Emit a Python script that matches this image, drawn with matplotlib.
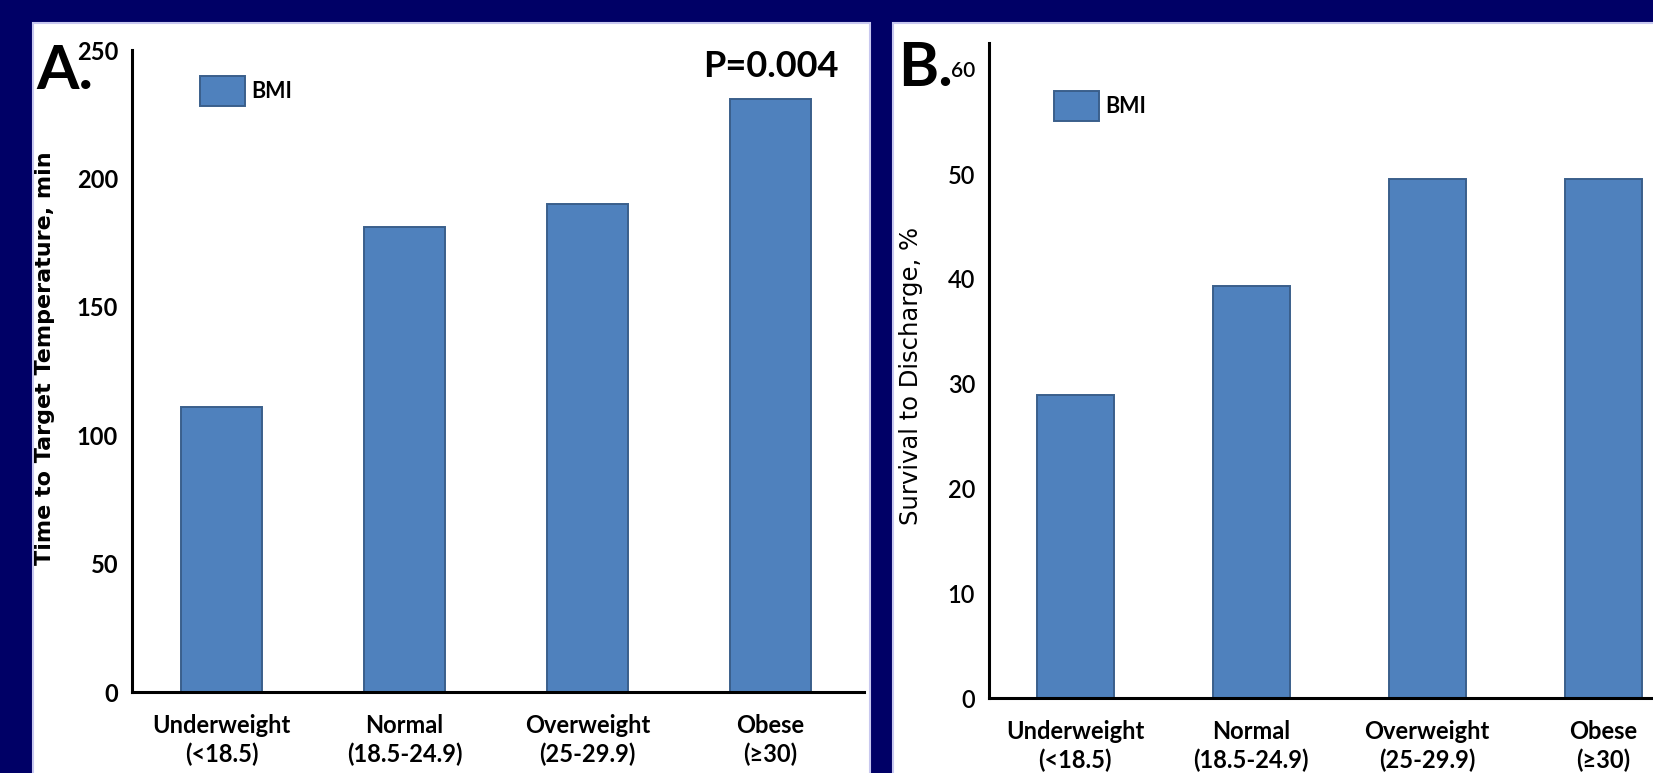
import matplotlib.pyplot as plt
from matplotlib.patches import Rectangle, Patch

# data
categories = ['Underweight\n(<18.5)', 'Normal\n(18.5-24.9)',
              'Overweight\n(25-29.9)', 'Obese\n(\u226530)']
time_to_target = [111, 181, 190, 231]
survival = [28.9, 39.3, 49.5, 49.5]
ticks_a = [0, 50, 100, 150, 200, 250]
ticks_b = [0, 10, 20, 30, 40, 50, 60]

W, H = 1653, 773
navy = '#000066'
bar_color = '#4F81BD'
bar_edge = '#3A5F8B'
fonts = ['Lato', 'DejaVu Sans']


def box(x0, y0, x1, y1):
    # pixel box (top-left origin) -> figure fraction
    return [x0 / W, 1 - y1 / H, (x1 - x0) / W, (y1 - y0) / H]


fig = plt.figure(figsize=(W / 100, H / 100), dpi=100, facecolor=navy)

# white panels
for x0, x1 in [(33, 870), (893, 1700)]:
    fig.add_artist(Rectangle((x0 / W, -0.1), (x1 - x0) / W, 1.1 - 23 / H,
                             transform=fig.transFigure, facecolor='white',
                             edgecolor='#c8c8f0', lw=1.5, zorder=0))


def draw(ax, values, ticks, ylim, tick_weight):
    x = range(len(values))
    ax.bar(x, values, width=0.44, color=bar_color, edgecolor=bar_edge,
           linewidth=1.4, label='BMI')
    ax.set_xlim(-0.49, 3.51)
    ax.set_ylim(*ylim)
    ax.set_facecolor('none')
    for s in ['top', 'right']:
        ax.spines[s].set_visible(False)
    for s in ['left', 'bottom']:
        ax.spines[s].set_linewidth(2.2)
        ax.spines[s].set_color('black')
    ax.set_xticks(list(x))
    ax.set_xticklabels(categories, family=fonts, fontsize=17,
                       fontweight='bold', linespacing=1.25)
    ax.set_yticks(ticks)
    ax.set_yticklabels([str(t) for t in ticks], family=fonts, fontsize=17,
                       fontweight=tick_weight)
    ax.tick_params(axis='x', length=0, pad=16)
    ax.tick_params(axis='y', length=0, pad=10)


ax_a = fig.add_axes(box(132, 50, 864, 692))
draw(ax_a, time_to_target, ticks_a, (0, 250), 'bold')
ax_b = fig.add_axes(box(989, 43, 1693, 698))
draw(ax_b, survival, ticks_b, (0, 62.5), 'semibold')
# the top label on the right panel is set smaller in the original
ax_b.get_yticklabels()[-1].set_fontsize(15)

# axis titles
fig.text(45 / W, 1 - 358 / H, 'Time to Target Temperature, min',
         rotation=90, ha='center', va='center', fontsize=16,
         fontweight='bold', family='DejaVu Sans')
fig.text(911 / W, 1 - 376 / H, 'Survival to Discharge, %',
         rotation=90, ha='center', va='center', fontsize=17.5,
         family='DejaVu Sans')

# panel letters and p value
fig.text(36 / W, 1 - 89 / H, 'A.', fontsize=44, fontweight='bold',
         family=fonts, va='baseline', ha='left')
fig.text(898 / W, 1 - 86 / H, 'B.', fontsize=44, fontweight='bold',
         family=fonts, va='baseline', ha='left')
fig.text(839 / W, 1 - 77 / H, 'P=0.004', fontsize=26, fontweight='bold',
         family=fonts, va='baseline', ha='right')

# legends
handle = Patch(facecolor=bar_color, edgecolor=bar_edge, linewidth=1.4)
for (lx, ly) in [(200, 76), (1054, 91)]:
    fig.legend([handle], ['BMI'], loc='upper left',
               bbox_to_anchor=(lx / W, 1 - ly / H), frameon=False,
               borderpad=0, borderaxespad=0, handlelength=2.1,
               handleheight=1.8, handletextpad=0.3,
               prop={'family': fonts, 'weight': 'bold', 'size': 15.5})

fig.savefig('out.png', dpi=100, facecolor=fig.get_facecolor())
